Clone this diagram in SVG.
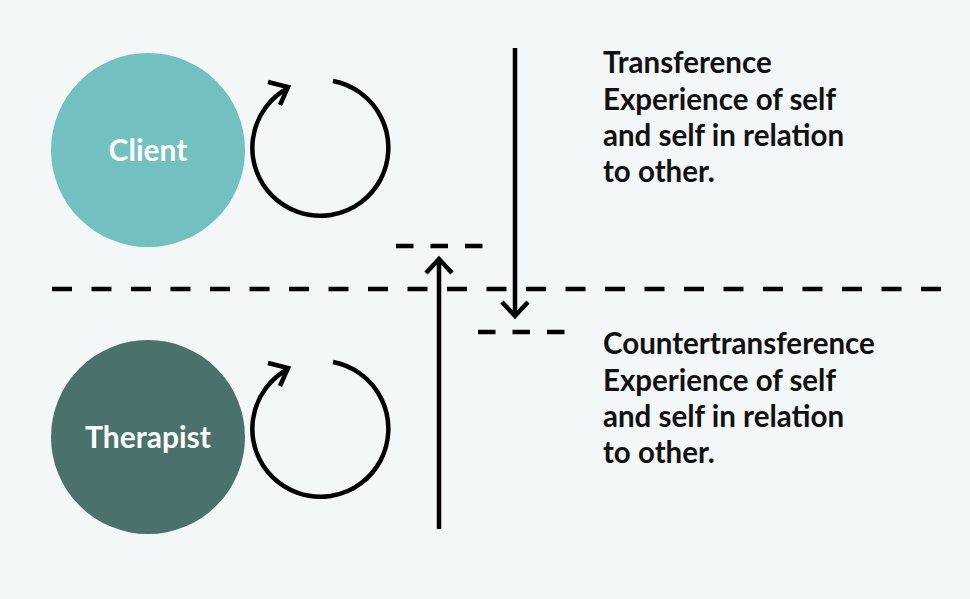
<svg xmlns="http://www.w3.org/2000/svg" width="970" height="599" viewBox="0 0 970 599">
<defs>
<style>
.ln{stroke:#000;stroke-width:4.5;fill:none}
.dash{stroke:#000;stroke-width:4.5;fill:none}
.lbl{font-family:Lato,"Noto Sans",sans-serif;font-weight:bold;font-size:29.5px;fill:#111}
.node{font-family:Lato,"Noto Sans",sans-serif;font-weight:bold;font-size:30px;fill:#fff;text-anchor:middle}
</style>
</defs>
<rect width="970" height="599" fill="#f3f7f7"/>
<g id="client">
<circle cx="148" cy="150" r="97" fill="#72c0c0"/>
<text class="node" x="148" y="161">Client</text>
</g>
<g id="client-loop">
<path class="ln" d="M333 81 A68 68 0 1 1 288 88"/>
<path class="ln" d="M268 82 L288 87 L280 105"/>
</g>
<g id="therapist">
<circle cx="148" cy="437" r="97" fill="#4a716c"/>
<text class="node" x="148" y="448">Therapist</text>
</g>
<g id="therapist-loop">
<path class="ln" d="M333 362 A68 68 0 1 1 288 369"/>
<path class="ln" d="M268 363 L288 368 L280 386"/>
</g>
<g id="connectors">
<line class="dash" x1="52" y1="289" x2="945" y2="289" stroke-dasharray="20 19.5"/>
<line class="dash" x1="396" y1="246" x2="484" y2="246" stroke-dasharray="17.5 17"/>
<line class="dash" x1="478" y1="332" x2="566" y2="332" stroke-dasharray="17.5 17"/>
<line class="ln" x1="439" y1="529" x2="439" y2="260"/>
<path class="ln" d="M426 273 L439 259 L452 273"/>
<line class="ln" x1="515" y1="48" x2="515" y2="314"/>
<path class="ln" d="M502 302 L515 316 L528 302"/>
</g>
<g id="transference-text">
<text class="lbl" x="603" y="73">Transference</text>
<text class="lbl" x="603" y="110">Experience of self</text>
<text class="lbl" x="603" y="146">and self in relation</text>
<text class="lbl" x="603" y="182">to other.</text>
</g>
<g id="countertransference-text">
<text class="lbl" x="603" y="354">Countertransference</text>
<text class="lbl" x="603" y="391">Experience of self</text>
<text class="lbl" x="603" y="427">and self in relation</text>
<text class="lbl" x="603" y="463">to other.</text>
</g>
</svg>
